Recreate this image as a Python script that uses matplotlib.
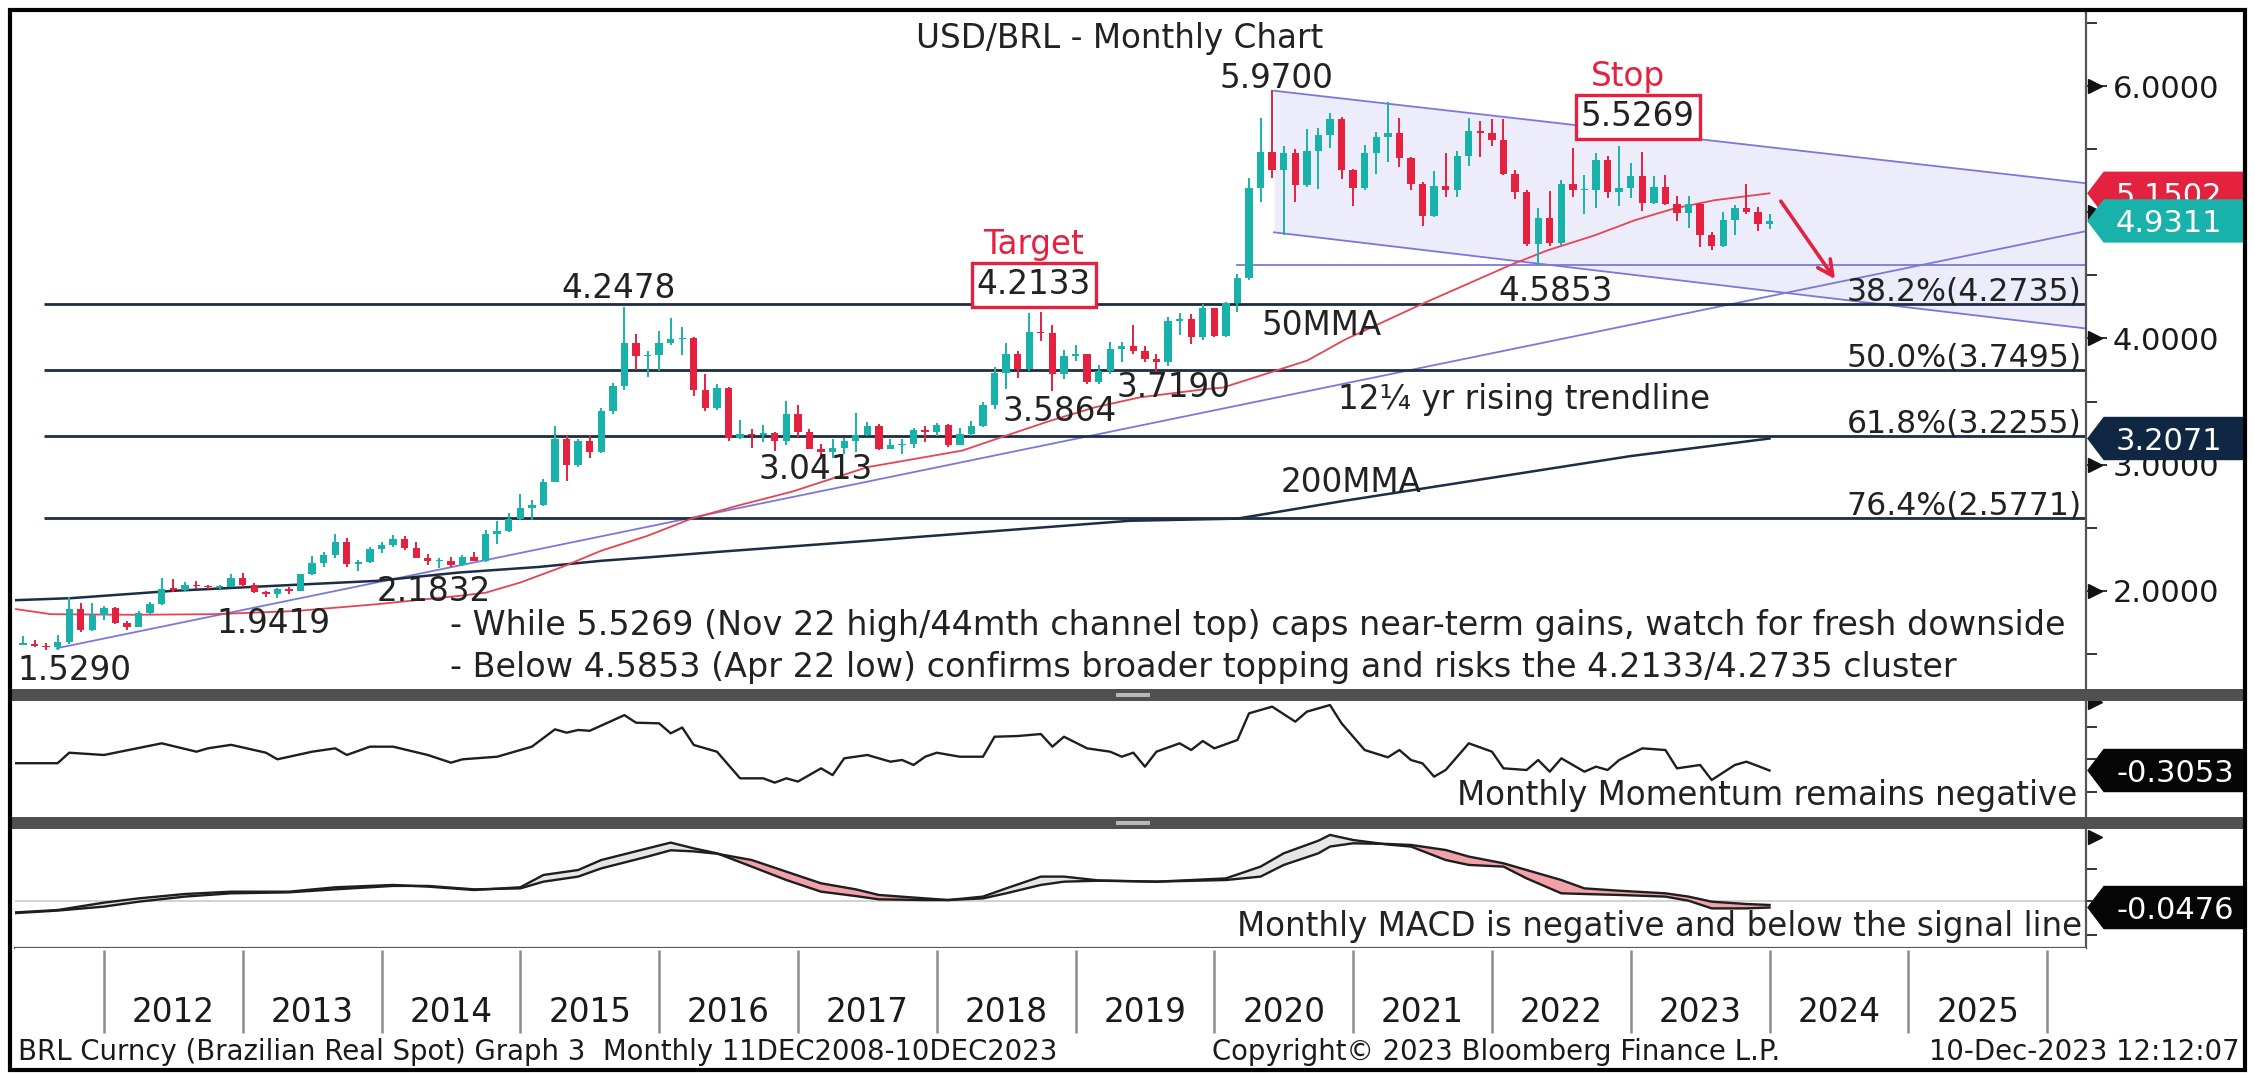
import numpy as np
import matplotlib
matplotlib.use("Agg")
import matplotlib.pyplot as plt
from matplotlib.patches import Rectangle, Polygon
from matplotlib.transforms import blended_transform_factory as blend

plt.rcParams['font.family'] = ['DejaVu Sans']

# ======================= DATA =======================
first_year, first_month = 2011, 5          # first visible candle (May 2011)

opens = [
 1.573,1.582,1.561,1.553,1.592,1.853,1.690,1.810,
 1.866,1.745,1.714,1.822,1.895,2.015,2.010,2.048,2.036,2.028,2.031,2.102,
 2.047,1.991,1.976,2.015,2.002,2.131,2.218,2.283,2.383,2.210,2.229,2.328,
 2.361,2.413,2.337,2.262,2.235,2.239,2.203,2.265,2.240,2.451,2.478,2.571,
 2.658,2.683,2.862,3.203,2.998,3.184,3.103,3.424,3.627,3.965,3.859,3.871,
 3.961,3.995,4.005,3.590,3.449,3.608,3.212,3.242,3.233,3.253,3.185,3.398,
 3.255,3.126,3.103,3.128,3.186,3.235,3.308,3.124,3.153,3.166,3.275,3.262,
 3.311,3.156,3.244,3.306,3.471,3.727,3.877,3.756,4.055,4.040,3.721,3.860,
 3.875,3.652,3.744,3.917,3.942,3.900,3.837,3.813,4.141,4.157,4.008,4.240,
 4.019,4.284,4.478,5.196,5.480,5.337,5.467,5.217,5.483,5.610,5.740,5.333,
 5.194,5.470,5.600,5.630,5.430,5.222,4.970,5.209,5.175,5.447,5.643,5.630,
 5.575,5.305,5.163,4.747,4.954,4.755,5.225,5.175,5.180,5.415,5.160,5.195,
 5.286,5.072,5.200,5.066,4.995,5.065,4.820,4.730,4.942,5.035,5.005,4.910]
highs = [
 1.640,1.609,1.588,1.653,1.953,1.902,1.905,1.882,
 1.870,1.760,1.838,1.913,2.105,2.093,2.066,2.074,2.046,2.043,2.134,2.140,
 2.062,1.998,2.023,2.028,2.136,2.273,2.310,2.454,2.420,2.248,2.347,2.390,
 2.445,2.438,2.383,2.291,2.262,2.265,2.280,2.310,2.481,2.552,2.613,2.764,
 2.716,2.889,3.308,3.233,3.203,3.232,3.451,3.647,4.2478,4.032,3.900,4.056,
 4.166,4.087,4.010,3.716,3.637,3.619,3.353,3.284,3.316,3.255,3.505,3.476,
 3.284,3.165,3.202,3.214,3.410,3.335,3.320,3.203,3.201,3.289,3.306,3.327,
 3.320,3.292,3.345,3.500,3.771,3.965,3.898,4.202,4.2133,4.110,3.912,3.948,
 3.880,3.790,3.975,3.968,4.104,3.938,3.880,4.167,4.200,4.196,4.275,4.244,
 4.289,4.507,5.269,5.750,5.970,5.522,5.500,5.660,5.671,5.790,5.755,5.340,
 5.533,5.633,5.877,5.747,5.440,5.240,5.330,5.470,5.483,5.750,5.720,5.743,
 5.740,5.336,5.175,5.036,5.165,5.253,5.506,5.296,5.467,5.445,5.5269,5.394,
 5.475,5.290,5.298,5.128,5.128,5.070,4.843,5.006,5.058,5.222,5.040,4.990]
lows = [
 1.567,1.558,1.529,1.535,1.580,1.675,1.685,1.767,
 1.734,1.693,1.712,1.817,1.888,1.990,2.000,2.015,2.012,2.015,2.030,2.033,
 1.985,1.951,1.9419,1.974,1.998,2.122,2.192,2.260,2.192,2.160,2.218,2.296,
 2.345,2.320,2.257,2.208,2.1832,2.191,2.195,2.234,2.230,2.369,2.470,2.562,
 2.565,2.676,2.860,2.870,2.978,3.052,3.095,3.403,3.590,3.751,3.693,3.746,
 3.950,3.866,3.545,3.426,3.430,3.190,3.200,3.128,3.178,3.110,3.157,3.221,
 3.123,3.0413,3.052,3.082,3.099,3.225,3.115,3.120,3.083,3.134,3.182,3.230,
 3.140,3.154,3.224,3.302,3.440,3.600,3.689,3.745,3.981,3.5864,3.677,3.819,
 3.642,3.640,3.715,3.813,3.880,3.810,3.719,3.780,4.030,3.958,3.990,4.015,
 4.015,4.208,4.462,5.079,5.269,4.820,5.081,5.203,5.182,5.510,5.263,5.050,
 5.173,5.306,5.395,5.359,5.180,4.894,4.960,5.118,5.117,5.368,5.435,5.525,
 5.295,5.102,4.735,4.5853,4.735,4.741,5.118,4.987,5.033,5.110,5.052,5.110,
 5.013,5.064,5.055,4.934,4.874,4.724,4.703,4.728,4.818,4.985,4.853,4.866]
closes = [
 1.582,1.561,1.553,1.592,1.853,1.690,1.810,1.866,
 1.745,1.714,1.822,1.895,2.015,2.010,2.048,2.036,2.028,2.031,2.102,2.047,
 1.991,1.976,2.015,2.002,2.131,2.218,2.283,2.383,2.210,2.229,2.328,2.361,
 2.413,2.337,2.262,2.235,2.239,2.203,2.265,2.240,2.451,2.478,2.571,2.658,
 2.683,2.862,3.203,2.998,3.184,3.103,3.424,3.627,3.965,3.859,3.871,3.961,
 3.995,4.005,3.590,3.449,3.608,3.212,3.242,3.233,3.253,3.185,3.398,3.255,
 3.126,3.103,3.128,3.186,3.235,3.308,3.124,3.153,3.166,3.275,3.262,3.311,
 3.156,3.244,3.306,3.471,3.727,3.877,3.756,4.055,4.040,3.721,3.860,3.875,
 3.652,3.744,3.917,3.942,3.900,3.837,3.813,4.141,4.157,4.008,4.240,4.019,
 4.284,4.478,5.196,5.480,5.337,5.467,5.217,5.483,5.610,5.740,5.333,5.194,
 5.470,5.600,5.630,5.430,5.222,4.970,5.209,5.175,5.447,5.643,5.630,5.575,
 5.305,5.163,4.747,4.954,4.755,5.225,5.175,5.180,5.415,5.160,5.195,5.286,
 5.072,5.200,5.066,4.995,5.065,4.820,4.730,4.942,5.035,5.005,4.910,4.9311]

# 50- and 200-month moving averages (decimal years)
ma50_x = [2011.367, 2011.617, 2012.208, 2012.792, 2013.383, 2013.967, 2014.558, 2014.75,
          2015.0, 2015.292, 2015.583, 2015.917, 2016.233, 2016.583, 2016.958, 2017.5,
          2018.183, 2018.5, 2018.825, 2019.142, 2019.467, 2019.95, 2020.06, 2020.43,
          2020.67, 2020.94, 2021.49, 2022.14, 2022.40, 2022.74, 2023.03, 2023.31,
          2023.60, 2024.0]
ma50_v = [1.855, 1.815, 1.81, 1.815, 1.84, 1.894, 1.96, 1.985, 2.066, 2.185, 2.318,
          2.436, 2.572, 2.68, 2.786, 2.98, 3.111, 3.23, 3.35, 3.455, 3.534, 3.60, 3.61,
          3.74, 3.825, 3.99, 4.27, 4.585, 4.698, 4.817, 4.937, 5.029, 5.095, 5.1502]
ma200_x = [2011.367, 2011.764, 2012.497, 2013.383, 2013.967, 2014.558, 2015.142, 2015.583,
           2015.917, 2016.44, 2017.483, 2019.39, 2020.165, 2020.94, 2021.97, 2023.0, 2024.0]
ma200_v = [1.926, 1.942, 2.0, 2.048, 2.079, 2.145, 2.19, 2.238, 2.265, 2.31, 2.395, 2.555,
           2.572, 2.714, 2.891, 3.068, 3.2071]

# Monthly momentum (month, value)
mom_months = ['2011-04','2011-08','2011-09','2011-12','2012-05','2012-08','2012-09','2012-11',
 '2013-02','2013-03','2013-06','2013-08','2013-09','2013-11','2014-01','2014-04','2014-06',
 '2014-07','2014-10','2015-01','2015-03','2015-04','2015-05','2015-06','2015-09','2015-10',
 '2015-12','2016-01','2016-02','2016-03','2016-05','2016-07','2016-09','2016-10','2016-11',
 '2016-12','2017-02','2017-03','2017-04','2017-06','2017-08','2017-09','2017-10','2017-11',
 '2017-12','2018-02','2018-04','2018-05','2018-07','2018-09','2018-10','2018-11','2019-01',
 '2019-03','2019-04','2019-05','2019-06','2019-07','2019-09','2019-10','2019-11','2019-12',
 '2020-02','2020-03','2020-05','2020-07','2020-08','2020-10','2020-11','2021-01','2021-03',
 '2021-04','2021-05','2021-06','2021-07','2021-08','2021-10','2021-12','2022-01','2022-03',
 '2022-04','2022-05','2022-06','2022-08','2022-09','2022-10','2022-11','2023-01','2023-03',
 '2023-04','2023-06','2023-07','2023-09','2023-10','2023-11','2023-12']
mom_vals = [-0.17,-0.17,0.024,-0.018,0.198,0.043,0.106,0.17,0.025,-0.098,0.043,0.105,-0.018,
 0.136,0.136,-0.018,-0.16,-0.098,-0.05,0.136,0.457,0.395,0.445,0.43,0.72,0.58,0.568,0.383,
 0.49,0.167,0.043,-0.45,-0.45,-0.53,-0.45,-0.51,-0.265,-0.39,-0.08,-0.018,-0.142,-0.11,
 -0.203,-0.05,0.024,-0.05,-0.05,0.32,0.333,0.37,0.136,0.32,0.105,0.043,-0.05,0.025,-0.234,
 0.044,0.198,0.074,0.241,0.105,0.260,0.753,0.877,0.599,0.784,0.907,0.568,0.074,-0.061,0.074,
 -0.111,-0.173,-0.419,-0.296,0.198,0.044,-0.265,-0.296,-0.111,-0.327,-0.080,-0.327,-0.234,
 -0.296,-0.111,0.105,0.074,-0.265,-0.203,-0.481,-0.203,-0.142,-0.222,-0.3053]

# Monthly MACD and signal line (month, value)
macd_months = ['2011-04','2011-08','2011-12','2012-03','2012-07','2012-11','2013-04','2013-08',
 '2014-01','2014-04','2014-08','2014-12','2015-02','2015-05','2015-07','2015-11','2016-01',
 '2016-03','2016-05','2016-08','2016-11','2017-02','2017-05','2017-07','2017-11','2018-01',
 '2018-04','2018-06','2018-09','2018-11','2019-02','2019-07','2020-01','2020-04','2020-06',
 '2020-09','2020-10','2020-12','2021-03','2021-05','2021-08','2021-10','2022-01','2022-03',
 '2022-06','2022-08','2022-11','2023-03','2023-05','2023-07','2023-10','2023-12']
macd_vals = [-0.085,-0.066,-0.012,0.019,0.051,0.068,0.068,0.100,0.117,0.105,0.080,0.100,
 0.190,0.226,0.299,0.384,0.426,0.384,0.348,0.251,0.153,0.068,0.036,0.012,0.007,0.007,0.032,
 0.092,0.178,0.178,0.150,0.141,0.165,0.251,0.348,0.440,0.482,0.445,0.412,0.397,0.299,0.263,
 0.251,0.165,0.056,0.051,0.044,0.032,0.002,-0.054,-0.054,-0.0476]
signal_vals = [-0.090,-0.070,-0.041,-0.005,0.032,0.056,0.063,0.085,0.110,0.110,0.085,0.092,
 0.141,0.178,0.238,0.324,0.370,0.362,0.345,0.299,0.214,0.129,0.085,0.044,0.019,0.007,0.019,
 0.056,0.117,0.141,0.148,0.141,0.153,0.178,0.263,0.348,0.397,0.421,0.416,0.409,0.372,0.324,
 0.275,0.226,0.153,0.092,0.075,0.056,0.032,-0.005,-0.022,-0.029]

fib_pcts = ['38.2%', '50.0%', '61.8%', '76.4%']
fib_levels = [4.2735, 3.7495, 3.2255, 2.5771]
price_ticks = [2.0, 3.0, 4.0, 5.0, 6.0]
year_labels = list(range(2012, 2026))

last_close = 4.9311
ma50_last = 5.1502
ma200_last = 3.2071
mom_last = -0.3053
macd_last = -0.0476

# analyst drawings
trend_x, trend_y = [2011.66, 2026.28], [1.545, 4.85]
chan_x = [2020.43, 2026.28]
chan_top = [5.963, 5.230]
chan_bot = [4.841, 4.079]
support_lvl, support_x0 = 4.5853, 2020.16

# ======================= STYLE =======================
TEAL = '#19b2aa'
RED = '#e4213e'
NAVY = '#1c2d44'
PURPLE = '#7b78dc'
FS = 23.5
FS_TICK = 22

W, H, DPI = 2255, 1074, 100
fig = plt.figure(figsize=(W / DPI, H / DPI), dpi=DPI)
fig.patch.set_facecolor('white')


def box(x0, y0, x1, y1):
    return [x0 / W, 1 - y1 / H, (x1 - x0) / W, (y1 - y0) / H]


def mpos(s):
    y, m = map(int, s.split('-'))
    return y + m / 12.0


XL = (2011.3595, 2026.28)
ax = fig.add_axes(box(15, 12, 2086, 689))
axm = fig.add_axes(box(15, 700, 2086, 817))
axc = fig.add_axes(box(15, 830, 2086, 948))
axd = fig.add_axes(box(15, 948, 2086, 1040))
for a in (ax, axm, axc, axd):
    a.set_xlim(*XL)
    a.set_xticks([])
    for s in ('left', 'top', 'bottom'):
        a.spines[s].set_visible(False)
    a.spines['right'].set_color('#555555')
    a.spines['right'].set_linewidth(1.6)
axd.spines['right'].set_visible(False)
axd.set_yticks([])
axd.set_ylim(0, 1)
axc.spines['bottom'].set_visible(True)
axc.spines['bottom'].set_color('#555555')
axc.spines['bottom'].set_linewidth(1.6)

ax.set_ylim(1.222, 6.587)
axm.set_ylim(-1.166, 1.0)
axc.set_ylim(-0.343, 0.518)

# ---------------- main price panel ----------------
n = len(closes)
xs = np.array([first_year + (first_month + i) / 12.0 for i in range(n)])
o = np.array(opens); h = np.array(highs); l = np.array(lows); c = np.array(closes)
up = c >= o
cols = np.where(up, TEAL, RED)

ax.fill_between(chan_x, chan_bot, chan_top, color='#ececfa', zorder=1, lw=0)
ax.plot(chan_x, chan_top, color=PURPLE, lw=1.3, zorder=2)
ax.plot(chan_x, chan_bot, color=PURPLE, lw=1.3, zorder=2)
ax.plot(trend_x, trend_y, color=PURPLE, lw=1.3, zorder=2)
ax.plot([support_x0, XL[1]], [support_lvl, support_lvl], color=PURPLE, lw=1.3, zorder=2)

for pct, lv in zip(fib_pcts, fib_levels):
    ax.plot([2011.565, XL[1]], [lv, lv], color=NAVY, lw=2.0, zorder=2,
            solid_capstyle='butt')
    ax.text(2026.25, lv + 0.03, f'{pct}({lv:.4f})', ha='right', va='baseline',
            fontsize=22.7, color='#222222', zorder=6)

ax.plot(ma200_x, ma200_v, color=NAVY, lw=1.8, zorder=3)
ax.plot(ma50_x, ma50_v, color='#e84350', lw=1.3, zorder=3)

ax.vlines(xs, l, h, colors=cols, lw=1.4, zorder=4)
body_bot = np.minimum(o, c)
body_h = np.maximum(np.abs(c - o), 0.012)
ax.bar(xs, body_h, width=0.053, bottom=body_bot, color=cols, zorder=5, lw=0)

ax.annotate('', xy=(2024.483, 4.452), xytext=(2024.07, 5.106),
            arrowprops=dict(arrowstyle='->,head_length=1.1,head_width=0.55',
                            color=RED, lw=2.6), zorder=6)

txt = dict(fontsize=FS, color='#222222', zorder=7)
ax.text(2019.32, 6.30, 'USD/BRL - Monthly Chart', ha='center', va='baseline', **txt)
ax.text(2020.45, 5.985, '5.9700', ha='center', va='baseline', **txt)
ax.text(2022.98, 6.00, 'Stop', ha='center', va='baseline', fontsize=FS, color=RED, zorder=7)
ax.text(2023.05, 5.756, '5.5269', ha='center', va='center', **txt,
        bbox=dict(boxstyle='square,pad=0.16', fc='white', ec=RED, lw=2.4))
ax.text(2018.70, 4.67, 'Target', ha='center', va='baseline', fontsize=FS, color=RED, zorder=7)
ax.text(2018.70, 4.424, '4.2133', ha='center', va='center', **txt,
        bbox=dict(boxstyle='square,pad=0.16', fc='white', ec=RED, lw=2.4))
ax.text(2015.707, 4.317, '4.2478', ha='center', va='baseline', **txt)
ax.text(2022.458, 4.30, '4.5853', ha='center', va='baseline', **txt)
ax.text(2020.339, 4.024, '50MMA', ha='left', va='baseline', **txt)
ax.text(2019.705, 3.534, '3.7190', ha='center', va='baseline', **txt)
ax.text(2018.888, 3.349, '3.5864', ha='center', va='baseline', **txt)
ax.text(2020.893, 3.444, '12\u00bc yr rising trendline', ha='left', va='baseline', **txt)
ax.text(2017.127, 2.889, '3.0413', ha='center', va='baseline', **txt)
ax.text(2020.478, 2.786, '200MMA', ha='left', va='baseline', **txt)
ax.text(2014.375, 1.921, '2.1832', ha='center', va='baseline', **txt)
ax.text(2013.218, 1.669, '1.9419', ha='center', va='baseline', **txt)
ax.text(2011.787, 1.294, '1.5290', ha='center', va='baseline', **txt)
ax.text(2014.495, 1.651, '- While 5.5269 (Nov 22 high/44mth channel top) caps near-term gains, '
        'watch for fresh downside', ha='left', va='baseline', fontsize=24, color='#222222',
        zorder=7)
ax.text(2014.495, 1.315, '- Below 4.5853 (Apr 22 low) confirms broader topping and risks the '
        '4.2133/4.2735 cluster', ha='left', va='baseline', fontsize=24, color='#222222',
        zorder=7)

for a in (ax, axm, axc):
    a.yaxis.tick_right()
ax.set_yticks(price_ticks)
ax.set_yticklabels([f'{t:.4f}' for t in price_ticks])
ax.set_yticks([1.5, 2.5, 3.5, 4.5, 5.5, 6.5], minor=True)
ax.tick_params(axis='y', which='major', direction='out', length=15, width=1.4,
               pad=4, labelsize=FS_TICK, colors='#333333', labelcolor='#1a1a1a')
ax.tick_params(axis='y', which='minor', direction='out', length=8, width=1.4, colors='#333333')
tr = blend(ax.transAxes, ax.transData)
ax.plot(np.full(len(price_ticks), 1.0045), price_ticks, transform=tr, marker='>', ms=10,
        color='#111111', ls='none', clip_on=False, zorder=8)

axm.set_yticks([])
axm.set_yticks([0.5, -0.1, -0.7], minor=True)
axm.tick_params(axis='y', which='minor', direction='out', length=8, width=1.4, colors='#333333')
axm.plot([1.0045], [0.97], transform=blend(axm.transAxes, axm.transData), marker='>', ms=10,
         color='#111111', ls='none', clip_on=False)
axc.set_yticks([])
axc.set_yticks([0.23, 0.0, -0.25], minor=True)
axc.tick_params(axis='y', which='minor', direction='out', length=8, width=1.4, colors='#333333')
axc.plot([1.0045], [0.47], transform=blend(axc.transAxes, axc.transData), marker='>', ms=10,
         color='#111111', ls='none', clip_on=False)

# ---------------- momentum panel ----------------
mx = [mpos(s) for s in mom_months]
axm.plot(mx, mom_vals, color='#1e1e1e', lw=1.7, zorder=3)
axm.text(0.996, -0.944, 'Monthly Momentum remains negative', ha='right', va='baseline',
         transform=blend(axm.transAxes, axm.transData), fontsize=FS, color='#222222')

# ---------------- MACD panel ----------------
cx = np.array([mpos(s) for s in macd_months])
mv = np.array(macd_vals); sv = np.array(signal_vals)
axc.axhline(0, color='#cfcfcf', lw=1.3, zorder=1)
axc.fill_between(cx, mv, sv, where=mv >= sv, interpolate=True, color='#e6e6e6', lw=0, zorder=2)
axc.fill_between(cx, mv, sv, where=mv < sv, interpolate=True, color='#f3a1a8', lw=0, zorder=2)
axc.plot(cx, sv, color='#1e1e1e', lw=1.7, zorder=3)
axc.plot(cx, mv, color='#1e1e1e', lw=1.7, zorder=3)
axc.text(0.998, -0.255, 'Monthly MACD is negative and below the signal line', ha='right',
         va='baseline', transform=blend(axc.transAxes, axc.transData), fontsize=FS,
         color='#222222')

# ---------------- date axis ----------------
axd.vlines(list(range(2012, 2027)), 0.076, 0.978, colors='#8c8c8c', lw=1.8)
for y in year_labels:
    axd.text(y + 0.5, 0.30, str(y), ha='center', va='center', fontsize=FS, color='#1a1a1a')

# ---------------- value tags ----------------
def tag(axis, value, text, color, z):
    yd = axis.transData.transform((0, value))[1]
    hh = 21
    px = [2088, 2104, 2244, 2244, 2104]
    py = [yd, yd + hh, yd + hh, yd - hh, yd - hh]
    fig.add_artist(Polygon(np.column_stack([np.array(px) / W, np.array(py) / H]),
                           closed=True, transform=fig.transFigure, fc=color, ec=color,
                           zorder=z))
    fig.text(2116 / W, yd / H, text, color='white', fontsize=FS_TICK, ha='left',
             va='center_baseline', zorder=z + 0.5)


tag(ax, ma50_last, f'{ma50_last:.4f}', RED, 10)
tag(ax, last_close, f'{last_close:.4f}', TEAL, 12)
tag(ax, ma200_last, f'{ma200_last:.4f}', '#0f2743', 14)
tag(axm, mom_last, f'{mom_last:.4f}', '#050505', 16)
tag(axc, macd_last, f'{macd_last:.4f}', '#050505', 18)

# ---------------- frame, separators, footer ----------------
for y0 in (689, 817):
    fig.add_artist(Rectangle((12 / W, 1 - (y0 + 12) / H), (2245 - 12) / W, 12 / H,
                             transform=fig.transFigure, fc='#505050', ec='none', zorder=20))
    fig.add_artist(Rectangle((1116 / W, 1 - (y0 + 8) / H), 34 / W, 4 / H,
                             transform=fig.transFigure, fc='#b8b8b8', ec='none', zorder=21))
fig.add_artist(Rectangle((10 / W, 1 - 1070 / H), 2235 / W, 1060 / H, transform=fig.transFigure,
                         fill=False, ec='black', lw=3.0, zorder=30))

FF = 19.8
fig.text(18 / W, 1 - 1052 / H, 'BRL Curncy (Brazilian Real Spot) Graph 3  Monthly '
         '11DEC2008-10DEC2023', ha='left', va='center', fontsize=FF, color='#1a1a1a')
fig.text(1212 / W, 1 - 1052 / H, 'Copyright\u00a9 2023 Bloomberg Finance L.P.', ha='left',
         va='center', fontsize=FF, color='#1a1a1a')
fig.text(2240 / W, 1 - 1052 / H, '10-Dec-2023 12:12:07', ha='right', va='center',
         fontsize=FF, color='#1a1a1a')

fig.savefig('out.png', dpi=DPI, facecolor='white')
